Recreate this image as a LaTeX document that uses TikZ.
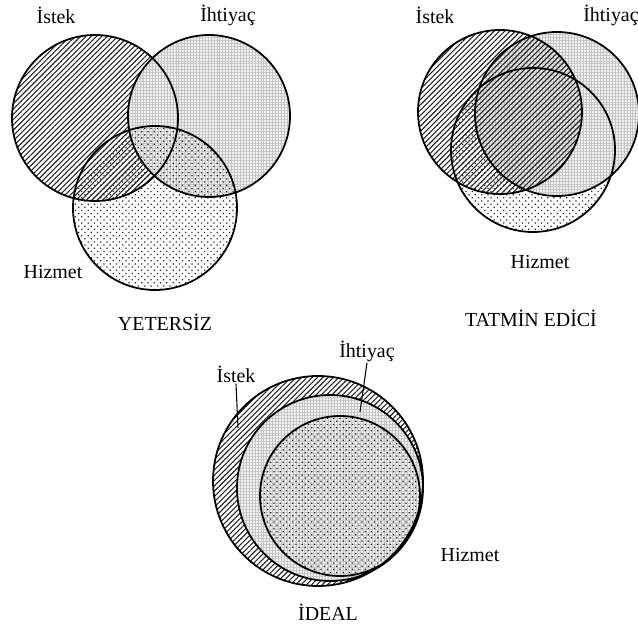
\documentclass[tikz,border=0pt]{standalone}
\usepackage{fontspec}
\setmainfont{Liberation Serif}
\usepackage{tikz}
\usetikzlibrary{patterns.meta}

\begin{document}
\begin{tikzpicture}[x=0.03cm, y=0.03cm,
  istek/.style={pattern={Lines[angle=45,distance=3.2pt,line width=0.95pt]}, pattern color=black!85},
  ihtiyac/.style={preaction={fill=gray!12}, pattern={Hatch[angle=0,distance=2.5pt,line width=0.3pt]}, pattern color=gray!45},
  hizmet/.style={pattern={Dots[angle=45,distance=3.8pt,radius=0.75pt]}, pattern color=black!85},
  ring/.style={draw, line width=1.5pt},
  lbl/.style={font=\fontsize{17}{20}\selectfont, inner sep=1pt},
  lead/.style={line width=0.9pt}]
\useasboundingbox (0,0) rectangle (638,626);
% YETERSIZ
\fill[istek]   (95,508)  circle[radius=83];
\fill[ihtiyac] (209,510) circle[radius=81];
\fill[hizmet]  (155,418) circle[radius=82];
\draw[ring] (95,508) circle[radius=83] (209,510) circle[radius=81] (155,418) circle[radius=82];
\node[lbl] (istekA)   at (56,611)  {İstek};
\node[lbl] (ihtiyacA) at (228,611) {İhtiyaç};
\node[lbl] (hizmetA)  at (53,354)  {Hizmet};
\node[lbl] (yetersiz) at (165,304) {YETERSİZ};
% TATMIN EDICI
\fill[hizmet]  (533,476) circle[radius=82];
\fill[ihtiyac] (557,512) circle[radius=82];
\fill[istek]   (500,514) circle[radius=82];
\draw[ring] (500,514) circle[radius=82] (557,512) circle[radius=82] (533,476) circle[radius=82];
\node[lbl] (istekB)   at (435,611) {İstek};
\node[lbl] (ihtiyacB) at (611,611) {İhtiyaç};
\node[lbl] (hizmetB)  at (540,364) {Hizmet};
\node[lbl] (tatmin)   at (531,308) {TATMİN EDİCİ};
% IDEAL
\fill[istek]   (318,145) circle[radius=105];
\fill[ihtiyac] (330,138) circle[radius=93];
\fill[hizmet]  (340,130) circle[radius=80];
\draw[ring] (318,145) circle[radius=105] (330,138) circle[radius=93] (340,130) circle[radius=80];
\node[lbl] (istekC)   at (236,252) {İstek};
\node[lbl] (ihtiyacC) at (367,275) {İhtiyaç};
\node[lbl] (hizmetC)  at (470,71)  {Hizmet};
\node[lbl] (ideal)    at (328,14)  {İDEAL};
\coordinate (ucIstek)   at (238,198);
\coordinate (ucIhtiyac) at (360,214);
\draw[lead] (istekC.south) -- (ucIstek);
\draw[lead] (ihtiyacC.south) -- (ucIhtiyac);
\end{tikzpicture}
\end{document}
